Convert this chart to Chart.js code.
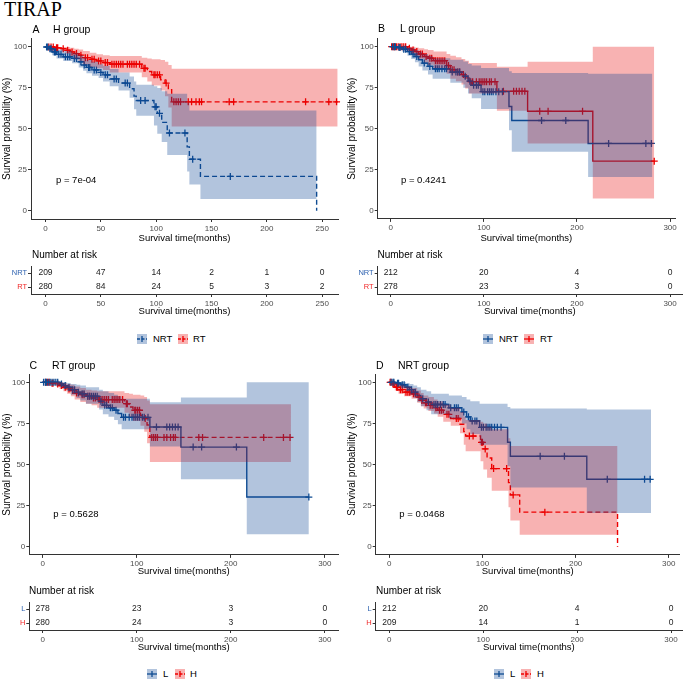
<!DOCTYPE html>
<html><head><meta charset="utf-8">
<script src="https://cdn.jsdelivr.net/npm/chart.js@4.4.1/dist/chart.umd.min.js"></script>
<style>
body{margin:0;width:685px;height:680px;position:relative;background:#fff;overflow:hidden;font-family:"Liberation Sans",Arial,sans-serif}
canvas{position:absolute}
.t{position:absolute;white-space:nowrap;line-height:1;color:#000}
</style></head><body>
<script>
// ---------------- DATA ----------------
const yTicks = [0, 25, 50, 75, 100];
const xTicks250 = [0, 50, 100, 150, 200, 250];
const xTicks300 = [0, 100, 200, 300];

// H group, NRT
const hNrtTime  = [0, 3, 6, 10, 16, 24, 30, 34, 37, 42, 48, 52, 58, 66, 76, 80, 82, 98, 101, 105, 110, 128, 130, 140, 245];
const hNrtSurv  = [100, 99, 97, 95.5, 94, 93, 91, 89, 87.5, 86, 84.5, 83, 80.5, 78, 74.5, 70, 67.3, 63.5, 59.5, 54, 47.5, 39, 31.5, 21, 0];
const hNrtLower = [100, 97.5, 95, 93, 91.5, 90, 87.5, 85.5, 84, 82.5, 81, 79, 76, 73.5, 69, 62, 58, 52, 47, 42, 34, 24, 16, 7.2, 7.2];
const hNrtUpper = [100, 100, 99.5, 98.5, 97.5, 96.5, 95, 93.5, 92, 91, 89.5, 88.5, 86.5, 84.5, 82, 79, 77, 76, 75, 73, 71.5, 66, 61.2, 61.2, 61.2];
const hNrtCensor = [1, 2, 4, 5, 8, 9, 12, 14, 18, 20, 22, 26, 28, 32, 35, 39, 40, 44, 46, 50, 54, 56, 62, 64, 72, 74, 86, 90, 99, 100, 103, 112, 126, 133, 167];

// H group, RT
const hRtTime  = [0, 8, 14, 18, 22, 26, 30, 34, 40, 46, 52, 58, 87, 92, 96, 104, 108, 111, 114, 264];
const hRtSurv  = [100, 99.5, 99, 98, 97, 96, 95, 93.5, 92.5, 91.5, 90.5, 89.5, 87, 85, 83, 80, 78, 74, 66.5, 66.5];
const hRtLower = [100, 99, 97.5, 96, 94.5, 93, 91.5, 89.5, 88, 87, 86, 84.5, 81.5, 79, 76.5, 73.5, 70, 63, 51.5, 51.5];
const hRtUpper = [100, 100, 100, 100, 99.5, 99, 98.5, 97.5, 96.5, 95.5, 95, 94.5, 93.5, 93, 92.5, 92, 91, 89, 86.7, 86.7];
const hRtCensor = [3, 5, 7, 10, 11, 16, 20, 24, 28, 32, 36, 38, 42, 44, 48, 50, 54, 56, 60, 62, 64, 66, 68, 70, 74, 76, 78, 80, 82, 85, 89, 90, 98, 99, 101, 103, 109, 116, 118, 120, 122, 129, 132, 136, 139, 141, 166, 170, 235, 256, 263];

// L group, NRT
const lNrtTime  = [0, 6, 12, 18, 22, 26, 30, 34, 40, 45, 64, 78, 83, 87, 97, 127, 130, 212, 281];
const lNrtSurv  = [100, 99.5, 98.5, 97, 95.5, 94, 92, 90, 88, 86.5, 84.5, 82, 79, 76.5, 72.6, 63.5, 55, 41, 41];
const lNrtLower = [100, 98.5, 97, 94.5, 92.5, 90.5, 88, 85.5, 83, 80.5, 78, 75, 71.5, 68.5, 62, 49, 36, 20.5, 20.5];
const lNrtUpper = [100, 100, 100, 99.5, 99, 98, 97, 95.5, 94.5, 93, 92, 91, 89.5, 88.5, 87, 85, 84, 83.5, 83.5];
const lNrtCensor = [2, 4, 5, 9, 10, 14, 16, 20, 24, 28, 36, 42, 48, 50, 52, 55, 58, 60, 66, 70, 72, 74, 80, 85, 89, 92, 94, 99, 101, 104, 106, 108, 110, 113, 116, 120, 162, 188, 234, 274, 280];

// L group, RT
const lRtTime  = [0, 18, 22, 26, 30, 36, 40, 46, 60, 64, 70, 76, 80, 84, 114, 147, 217, 283];
const lRtSurv  = [100, 99, 98, 97, 95.5, 94, 93, 91.5, 88.5, 86, 84.5, 83, 81, 78.7, 72.8, 60.6, 30.2, 30.2];
const lRtLower = [100, 97.5, 96, 94.5, 92.5, 90.5, 89, 87, 83.5, 80.5, 79, 77, 74.5, 71.5, 61, 41, 7.5, 7.5];
const lRtUpper = [100, 100, 100, 99.5, 99, 98.5, 98, 97, 95.5, 94.5, 93.5, 92.5, 91.5, 90, 87.8, 90.8, 100, 100];
const lRtCensor = [1, 3, 4, 6, 8, 10, 12, 14, 16, 20, 24, 28, 32, 34, 38, 42, 44, 48, 50, 52, 54, 56, 58, 62, 66, 68, 72, 74, 78, 86, 88, 92, 95, 97, 99, 101, 103, 106, 108, 112, 121, 132, 135, 138, 141, 144, 160, 169, 206, 283];

// Number at risk
const riskTimesA = [0, 50, 100, 150, 200, 250];
const riskA_NRT = [209, 47, 14, 2, 1, 0];
const riskA_RT  = [280, 84, 24, 5, 3, 2];
const riskTimes300 = [0, 100, 200, 300];
const riskB_NRT = [212, 20, 4, 0];
const riskB_RT  = [278, 23, 3, 0];
const riskC_L = [278, 23, 3, 0];
const riskC_H = [280, 24, 3, 0];
const riskD_L = [212, 20, 4, 0];
const riskD_H = [209, 14, 1, 0];

const pValues = ['p = 7e-04', 'p = 0.4241', 'p = 0.5628', 'p = 0.0468'];

// ---------------- STYLE ----------------
const FONT = '"Liberation Sans", Arial, sans-serif';
Chart.defaults.font.family = FONT;
const BLUE = '#0F4C92', BLUE_BAND = 'rgba(5,66,145,0.31)';
const RED = '#EE0000', RED_BAND = 'rgba(232,0,0,0.3)';
const BLUE_LBL = '#2F63B0', RED_LBL = '#F02828';

const H_NRT = {time: hNrtTime, surv: hNrtSurv, lower: hNrtLower, upper: hNrtUpper, censor: hNrtCensor};
const H_RT  = {time: hRtTime,  surv: hRtSurv,  lower: hRtLower,  upper: hRtUpper,  censor: hRtCensor};
const L_NRT = {time: lNrtTime, surv: lNrtSurv, lower: lNrtLower, upper: lNrtUpper, censor: lNrtCensor};
const L_RT  = {time: lRtTime,  surv: lRtSurv,  lower: lRtLower,  upper: lRtUpper,  censor: lRtCensor};

function survAt(times, surv, t) { let v = surv[0]; for (let i = 0; i < times.length; i++) if (times[i] <= t) v = surv[i]; return v; }

function curveSets(c, color, band, dashed) {
  const pts = arr => c.time.map((t, i) => ({x: t, y: arr[i]}));
  return [
    {data: pts(c.lower), borderWidth: 0, borderColor: 'transparent', pointRadius: 0, stepped: true, fill: false, order: 0},
    {data: pts(c.upper), borderWidth: 0, borderColor: 'transparent', pointRadius: 0, stepped: true, fill: '-1', backgroundColor: band, order: 0},
    {data: pts(c.surv), borderColor: color, borderWidth: 1.4, borderDash: dashed ? [5, 3] : [], pointRadius: 0, stepped: true, fill: false, order: 2},
    {data: c.censor.map(t => ({x: t, y: survAt(c.time, c.surv, t)})), showLine: false, pointStyle: 'cross', pointRadius: 3.5,
     pointBorderColor: color, pointBorderWidth: 1.3, pointBackgroundColor: color, fill: false, order: 1, clip: 6}
  ];
}

function mkCanvas(b) {
  const c = document.createElement('canvas');
  c.width = b.w; c.height = b.h;
  c.style.left = b.left + 'px'; c.style.top = b.top + 'px';
  c.style.width = b.w + 'px'; c.style.height = b.h + 'px';
  document.body.appendChild(c); return c;
}

function axisCommon() {
  return {
    grid: {display: true, drawOnChartArea: false, drawTicks: true, tickLength: 3, color: '#333', tickWidth: 1},
    border: {display: true, color: '#333', width: 1}
  };
}

function kmChart(box, area, xMin, xMax, xTicks, sets) {
  const cv = mkCanvas(box);
  const yW = area.l - box.left, xH = box.top + box.h - area.b;
  new Chart(cv, {
    type: 'line',
    data: {datasets: sets},
    options: {
      responsive: false, animation: false, events: [],
      layout: {padding: {left: 0, top: area.t - box.top, right: box.left + box.w - area.r, bottom: 0}},
      plugins: {legend: {display: false}, tooltip: {enabled: false}},
      scales: {
        x: Object.assign(axisCommon(), {
          type: 'linear', min: xMin, max: xMax,
          afterBuildTicks: s => { s.ticks = xTicks.map(v => ({value: v})); },
          afterFit: s => { s.height = xH; },
          ticks: {font: {size: 8}, color: '#4d4d4d', padding: 1.5, maxRotation: 0, autoSkip: false},
          title: {display: true, text: 'Survival time(months)', font: {size: 9.5}, color: '#000', padding: {top: 0, bottom: 6.3}}
        }),
        y: Object.assign(axisCommon(), {
          type: 'linear', min: -5, max: 105,
          afterBuildTicks: s => { s.ticks = yTicks.map(v => ({value: v})); },
          afterFit: s => { s.width = yW; },
          ticks: {font: {size: 8}, color: '#4d4d4d', padding: 1, autoSkip: false},
          title: {display: true, text: 'Survival probability (%)', font: {size: 10}, color: '#000', padding: {top: 1, bottom: 0}}
        })
      }
    }
  });
}

const riskText = {
  id: 'riskText',
  afterDatasetsDraw(chart) {
    const ctx = chart.ctx;
    ctx.save();
    ctx.font = '8.5px ' + FONT; ctx.fillStyle = '#222'; ctx.textAlign = 'center'; ctx.textBaseline = 'middle';
    chart.data.datasets.forEach((ds, i) => {
      chart.getDatasetMeta(i).data.forEach((el, j) => ctx.fillText(String(ds.counts[j]), el.x, el.y));
    });
    ctx.restore();
  }
};

function riskChart(box, area, xMin, xMax, xTicks, labels, labelColors, times, countsList, titlePad) {
  const cv = mkCanvas(box);
  const yW = area.l - box.left, xH = box.top + box.h - area.b;
  new Chart(cv, {
    type: 'scatter',
    data: {datasets: countsList.map((arr, k) => ({data: times.map(t => ({x: t, y: labels[k]})), counts: arr, pointRadius: 0, showLine: false}))},
    options: {
      responsive: false, animation: false, events: [],
      layout: {padding: {left: 0, top: area.t - box.top, right: box.left + box.w - area.r, bottom: 0}},
      plugins: {legend: {display: false}, tooltip: {enabled: false}},
      scales: {
        x: Object.assign(axisCommon(), {
          type: 'linear', min: xMin, max: xMax,
          afterBuildTicks: s => { s.ticks = xTicks.map(v => ({value: v})); },
          afterFit: s => { s.height = xH; },
          ticks: {font: {size: 8}, color: '#4d4d4d', padding: 1.5, maxRotation: 0, autoSkip: false},
          title: {display: true, text: 'Survival time(months)', font: {size: 9.5}, color: '#000', padding: {top: 0, bottom: titlePad}}
        }),
        y: Object.assign(axisCommon(), {
          type: 'category', labels: labels, offset: true,
          afterFit: s => { s.width = yW; },
          ticks: {font: {size: 7.5}, color: ctx => labelColors[ctx.index], padding: 1},
          title: {display: false}
        })
      }
    },
    plugins: [riskText]
  });
  cv.style.zIndex = 1;
}

function text(str, x, cy, size, opts) {
  const d = document.createElement('div');
  d.className = 't'; d.textContent = str;
  d.style.left = x + 'px'; d.style.top = (cy - 0.52 * size) + 'px'; d.style.fontSize = size + 'px';
  if (opts) Object.assign(d.style, opts);
  d.style.zIndex = 5;
  document.body.appendChild(d);
}

function legendItem(x, cy, color, band, dashed, label, textX) {
  const s = `<svg width="10" height="10" style="position:absolute;left:${x}px;top:${cy - 5}px;z-index:5">` +
    `<rect x="0" y="0" width="10" height="10" fill="${band}"/>` +
    `<line x1="0" y1="5" x2="10" y2="5" stroke="${color}" stroke-width="1.3" ${dashed ? 'stroke-dasharray="3,1.5"' : ''}/>` +
    `<line x1="5" y1="2" x2="5" y2="8" stroke="${color}" stroke-width="1.3"/></svg>`;
  document.body.insertAdjacentHTML('beforeend', s);
  text(label, textX, cy, 9.5);
}

// ---------------- PANELS ----------------
// A
kmChart({left: 0, top: 30, w: 345, h: 220}, {l: 31, r: 338, t: 38.8, b: 219}, -13.1, 264.3, xTicks250,
  [...curveSets(H_NRT, BLUE, BLUE_BAND, true), ...curveSets(H_RT, RED, RED_BAND, true)]);
riskChart({left: 0, top: 245, w: 345, h: 75}, {l: 31, r: 338, t: 266, b: 294}, -13.1, 264.3, xTicks250,
  ['NRT', 'RT'], [BLUE_LBL, RED_LBL], riskTimesA, [riskA_NRT, riskA_RT], 2.6);
// B
kmChart({left: 345, top: 30, w: 340, h: 220}, {l: 377.7, r: 675, t: 38.5, b: 218.9}, -14, 305.3, xTicks300,
  [...curveSets(L_NRT, BLUE, BLUE_BAND, false), ...curveSets(L_RT, RED, RED_BAND, false)]);
riskChart({left: 345, top: 245, w: 340, h: 75}, {l: 377.7, r: 682, t: 266, b: 294}, -14, 312.8, xTicks300,
  ['NRT', 'RT'], [BLUE_LBL, RED_LBL], riskTimes300, [riskB_NRT, riskB_RT], 2.6);
// C
kmChart({left: 0, top: 365, w: 345, h: 218}, {l: 29.3, r: 338, t: 374.1, b: 554.9}, -14.2, 314, xTicks300,
  [...curveSets(L_RT, BLUE, BLUE_BAND, false), ...curveSets(H_RT, RED, RED_BAND, true)]);
riskChart({left: 0, top: 580, w: 345, h: 75}, {l: 29.3, r: 338, t: 602, b: 630}, -14.2, 314, xTicks300,
  ['L', 'H'], [BLUE_LBL, RED_LBL], riskTimes300, [riskC_L, riskC_H], 1.6);
// D
kmChart({left: 345, top: 365, w: 340, h: 218}, {l: 375.7, r: 682, t: 374.1, b: 554.9}, -14.5, 311.7, xTicks300,
  [...curveSets(L_NRT, BLUE, BLUE_BAND, false), ...curveSets(H_NRT, RED, RED_BAND, true)]);
riskChart({left: 345, top: 580, w: 340, h: 75}, {l: 375.7, r: 682, t: 602, b: 630}, -14.5, 311.7, xTicks300,
  ['L', 'H'], [BLUE_LBL, RED_LBL], riskTimes300, [riskD_L, riskD_H], 1.6);

// ---------------- TEXT ----------------
const tir = document.createElement('div');
tir.className = 't'; tir.textContent = 'TIRAP';
Object.assign(tir.style, {left: '4px', top: '-1px', fontSize: '20px', fontFamily: '"Liberation Serif", "Times New Roman", serif', zIndex: 5});
document.body.appendChild(tir);

text('A', 32.5, 29, 10.5); text('H group', 53, 29, 10.5);
text('B', 378, 28.5, 10.5); text('L group', 400, 28.5, 10.5);
text('C', 29.5, 365, 10.5); text('RT group', 52, 365, 10.5);
text('D', 376, 365, 10.5); text('NRT group', 398, 365, 10.5);

text(pValues[0], 56, 180, 9.5);
text(pValues[1], 401, 179.5, 9.5);
text(pValues[2], 53.3, 514.3, 9.5);
text(pValues[3], 399.3, 514.3, 9.5);

text('Number at risk', 32, 255, 10);
text('Number at risk', 377.5, 255, 10);
text('Number at risk', 29, 590.7, 10);
text('Number at risk', 376, 590.7, 10);

legendItem(137, 339, BLUE, BLUE_BAND, true, 'NRT', 153);
legendItem(178, 339, RED, RED_BAND, true, 'RT', 193);
legendItem(483, 339, BLUE, BLUE_BAND, false, 'NRT', 499);
legendItem(524, 339, RED, RED_BAND, false, 'RT', 540);
legendItem(147, 674.3, BLUE, BLUE_BAND, false, 'L', 163);
legendItem(175, 674.3, RED, RED_BAND, true, 'H', 190);
legendItem(494, 674.3, BLUE, BLUE_BAND, false, 'L', 510);
legendItem(521, 674.3, RED, RED_BAND, true, 'H', 537);
</script>
</body></html>
